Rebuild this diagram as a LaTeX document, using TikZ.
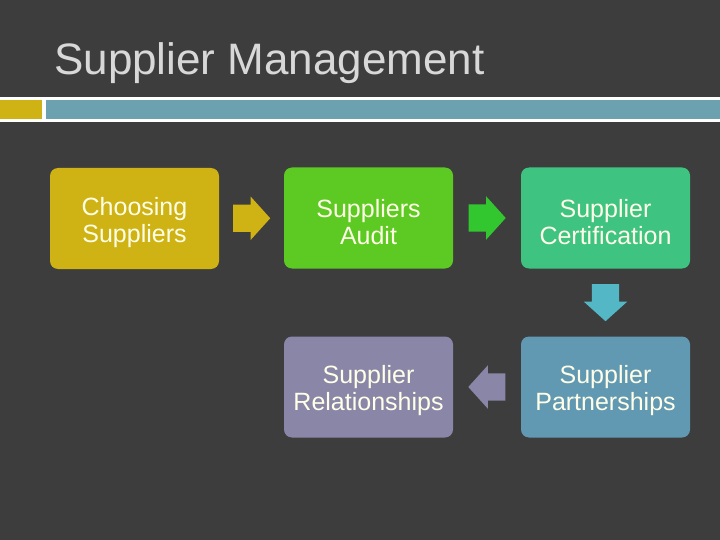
\documentclass[tikz,border=0pt]{standalone}
\usepackage{fontspec}
\setmainfont{Liberation Sans}
\usetikzlibrary{%
  calc,%
  shapes.arrows%
}
\definecolor{slidebg}{RGB}{61,61,61}
\definecolor{titlegray}{RGB}{216,216,216}
\definecolor{boxtext}{RGB}{255,255,232}
\definecolor{goldc}{RGB}{207,178,20}
\definecolor{barblue}{RGB}{108,161,176}
\definecolor{auditgreen}{RGB}{93,201,35}
\definecolor{arrowgreen}{RGB}{50,199,46}
\definecolor{certgreen}{RGB}{62,195,128}
\definecolor{arrowteal}{RGB}{84,183,198}
\definecolor{partblue}{RGB}{97,152,178}
\definecolor{relpurple}{RGB}{138,134,168}
\newcommand{\stagestrut}{\rule{0pt}{26pt}}
\tikzset{
  stagebox/.style={rounded corners=8pt,minimum width=169pt,minimum height=101pt,
    align=center,text=boxtext,inner sep=0pt,
    font=\fontsize{25}{27}\selectfont},
  blockarrow/.style={single arrow,inner xsep=0pt,inner ysep=13.5pt,minimum height=37pt,
    single arrow head extend=8pt,single arrow tip angle=96,anchor=tail}
}

\begin{document}
\begin{tikzpicture}[x=1pt,y=-1pt]
    \fill[slidebg] (0,0) rectangle (720,540);
    \useasboundingbox (0,0) rectangle (720,540);
    % title and bar
    \node[anchor=base west,inner sep=0pt,text=titlegray,
      font=\fontsize{44}{50}\selectfont] (title) at (54,75) {Supplier Management};
    \fill[white] (0,97) rectangle (720,122);
    \fill[goldc] (0,100) rectangle (42,119);
    \fill[barblue] (46,100) rectangle (720,119);
    % stages
    \node[stagebox,fill=goldc] (choose) at (134.5,218.5) {\stagestrut Choosing\\Suppliers};
    \node[stagebox,fill=auditgreen] (audit) at (368.5,218) {\stagestrut Suppliers\\Audit};
    \node[stagebox,fill=certgreen] (cert) at (605.5,218) {\stagestrut Supplier\\Certification};
    \node[stagebox,fill=partblue] (partner) at (605.5,387) {\stagestrut Supplier\\Partnerships};
    \node[stagebox,fill=relpurple] (relation) at (368.5,387) {\stagestrut Supplier\\Relationships};
    % arrows between stages (tail placed half a length before the gap's middle)
    \node[blockarrow,fill=goldc] (a1) at ($(choose.east)!0.5!(audit.west)+(-18.5,0)$) {};
    \node[blockarrow,fill=arrowgreen] (a2) at ($(audit.east)!0.5!(cert.west)+(-18.5,0)$) {};
    \node[blockarrow,fill=arrowteal,rotate=-90] (a3) at ($(cert.south)!0.5!(partner.north)+(0,-18.5)$) {};
    \node[blockarrow,fill=relpurple,rotate=180] (a4) at ($(partner.west)!0.5!(relation.east)+(18.5,0)$) {};
  \end{tikzpicture}
\end{document}
